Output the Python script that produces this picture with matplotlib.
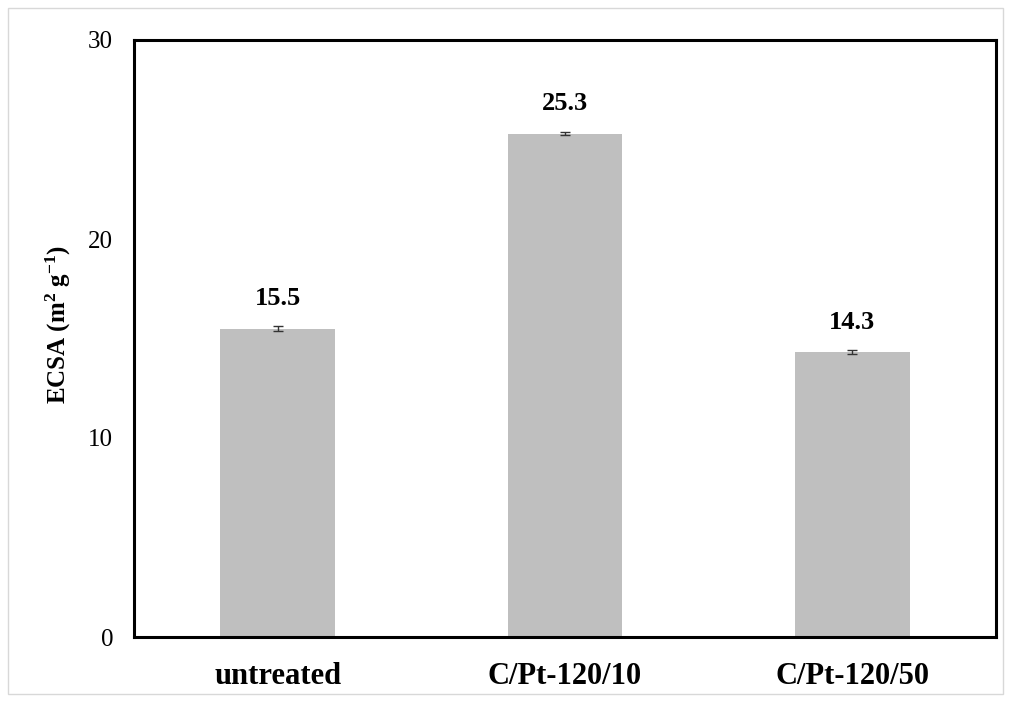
import matplotlib
matplotlib.use("Agg")
import matplotlib.pyplot as plt
from matplotlib.patches import Rectangle

categories = ["untreated", "C/Pt-120/10", "C/Pt-120/50"]
values = [15.5, 25.3, 14.3]
errors = [0.12, 0.08, 0.1]
yticks = [0, 10, 20, 30]

plt.rcParams['font.family'] = ['Liberation Serif', 'DejaVu Serif']
plt.rcParams['mathtext.fontset'] = 'custom'
plt.rcParams['mathtext.rm'] = 'Liberation Serif'
plt.rcParams['mathtext.bf'] = 'Liberation Serif:bold'
plt.rcParams['mathtext.it'] = 'Liberation Serif:italic'

fig = plt.figure(figsize=(10.11, 7.02), dpi=100)
ax = fig.add_axes([134/1011, 1-637/702, (996-134)/1011, (637-40)/702])

x = list(range(len(categories)))
ax.bar(x, values, width=0.4, color="#bfbfbf", edgecolor="none", zorder=2)
ax.errorbar(x, values, yerr=errors, fmt="none", ecolor="#333333", elinewidth=1,
            capsize=3.5, capthick=1, zorder=3)
for xi, v, e in zip(x, values, errors):
    ax.text(xi, v + 0.95, f"{v:.1f}", ha="center", va="bottom",
            fontsize=19, fontweight="bold")

ax.set_xlim(-0.5, 2.5)
ax.set_ylim(0, 30)
ax.set_yticks(yticks)
ax.set_yticklabels([str(t) for t in yticks], fontsize=18)
ax.set_xticks(x)
ax.set_xticklabels(categories, fontsize=22, fontweight="bold")
ax.tick_params(axis="both", length=0)
ax.tick_params(axis="y", pad=15)
ax.tick_params(axis="x", pad=18)
for s in ax.spines.values():
    s.set_linewidth(2.2)
    s.set_color("black")
ax.set_ylabel(r"ECSA (m$^\mathbf{2}$ g$^\mathbf{-1}$)", fontsize=18,
              fontweight="bold", labelpad=12)
ax.yaxis.set_label_coords(-0.0708, 0.523)

fig.patches.append(Rectangle((8/1011, 8/702), 995/1011, 686/702, transform=fig.transFigure,
                             fill=False, edgecolor="#d8d8d8", linewidth=1))
fig.savefig("out.png", dpi=100)
